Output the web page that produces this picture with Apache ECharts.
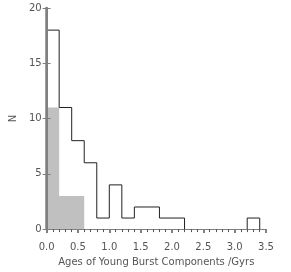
<!DOCTYPE html>
<html><head><meta charset="utf-8">
<script src="https://cdn.jsdelivr.net/npm/echarts@6/dist/echarts.min.js"></script>
<style>html,body{margin:0;padding:0;background:#fff}#c{width:291px;height:272px}</style>
</head><body><div id="c"></div>
<script>
var binEdges = [0,0.2,0.4,0.6,0.8,1.0,1.2,1.4,1.6,1.8,2.0,2.2,2.4,2.6,2.8,3.0,3.2,3.4];
var allCounts = [18,11,8,6,1,4,1,2,2,1,1,0,0,0,0,0,1];
var youngCounts = [11,3,3,0,0,0,0,0,0,0,0,0,0,0,0,0,0];
var xTicks = [0,0.5,1.0,1.5,2.0,2.5,3.0,3.5];
var yTicks = [0,5,10,15,20];

function outline(counts){
  var pts = [];
  var prev = 0;
  for (var i=0;i<counts.length;i++){
    var c = counts[i];
    if (c === 0) {
      if (prev !== 0) { pts.push([binEdges[i],0]); pts.push(null); }
    } else {
      if (prev === 0) pts.push([binEdges[i],0]);
      pts.push([binEdges[i], c]);
      pts.push([binEdges[i+1], c]);
    }
    prev = c;
  }
  if (prev !== 0) pts.push([binEdges[counts.length],0]);
  return pts;
}
function area(counts){
  var pts = [];
  for (var i=0;i<counts.length;i++){
    if (counts[i] === 0) continue;
    pts.push([binEdges[i], counts[i]]);
    pts.push([binEdges[i+1], counts[i]]);
  }
  return pts;
}

var txt = {color:'#555', fontFamily:'DejaVu Sans', fontSize:10};
var chart = echarts.init(document.getElementById('c'));
chart.setOption({
  animation:false,
  grid:{left:42,right:25,top:8,bottom:39},
  xAxis:[{
    type:'value', min:0, max:3.5, interval:0.5, position:'bottom', z:5,
    axisLine:{lineStyle:{color:'#808080',width:1}},
    axisTick:{show:true, inside:false, length:4, lineStyle:{color:'#808080',width:2}},
    minorTick:{show:true, splitNumber:5, length:3, lineStyle:{color:'#555',width:1}},
    axisLabel:Object.assign({margin:13, formatter:function(v){return v.toFixed(1);}}, txt),
    splitLine:{show:false},
    name:'Ages of Young Burst Components /Gyrs', nameLocation:'middle', nameGap:21,
    nameTextStyle:txt
  },{
    type:'value', min:0, max:3.5, interval:0.5, position:'top', z:5,
    axisLine:{lineStyle:{color:'#808080',width:1}},
    axisTick:{show:true, inside:true, length:4, lineStyle:{color:'#808080',width:2}},
    axisLabel:{show:false}, splitLine:{show:false}
  }],
  yAxis:[{
    type:'value', min:0, max:20, interval:5, position:'left', z:5,
    axisLine:{show:true, lineStyle:{color:'#808080',width:2}},
    axisTick:{show:true, inside:true, length:4, lineStyle:{color:'#808080',width:1}},
    axisLabel:Object.assign({margin:5}, txt),
    splitLine:{show:false},
    name:'N', nameLocation:'middle', nameGap:18, nameRotate:90, nameTextStyle:txt
  },{
    type:'value', min:0, max:20, interval:5, position:'right', z:5,
    axisLine:{show:true, lineStyle:{color:'#808080',width:2.5}},
    axisTick:{show:true, inside:true, length:4, lineStyle:{color:'#808080',width:1}},
    axisLabel:{show:false}, splitLine:{show:false}
  }],
  series:[{
    type:'line', data:area(youngCounts), symbol:'none', silent:true,
    lineStyle:{width:0, color:'#c0c0c0'},
    areaStyle:{color:'#c0c0c0', opacity:1}, z:1
  },{
    type:'line', data:outline(allCounts), symbol:'none', silent:true,
    connectNulls:false,
    lineStyle:{width:1, color:'#222'}, z:2
  }]
});
</script></body></html>
